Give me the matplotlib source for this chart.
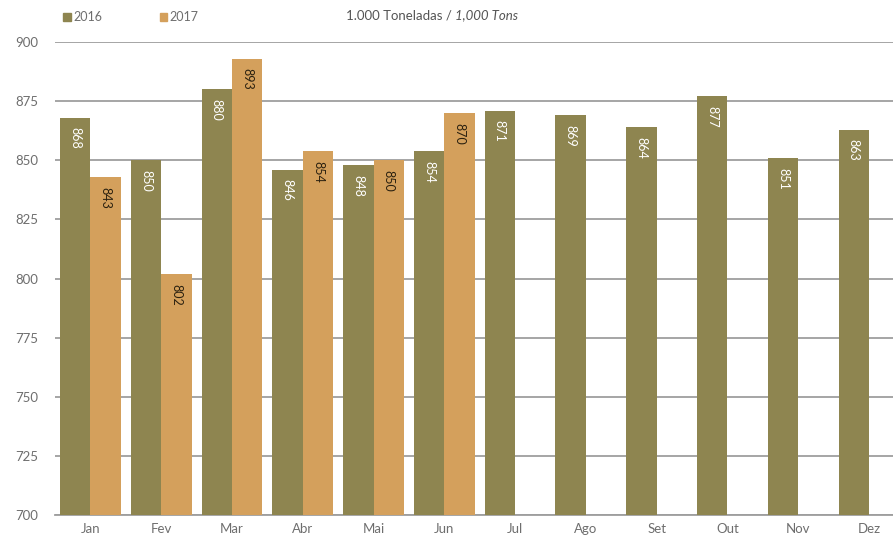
import numpy as np
import matplotlib
matplotlib.use('Agg')
import matplotlib.pyplot as plt
from matplotlib.patches import Patch

months = ['Jan', 'Fev', 'Mar', 'Abr', 'Mai', 'Jun', 'Jul', 'Ago', 'Set', 'Out', 'Nov', 'Dez']
values_2016 = [868, 850, 880, 846, 848, 854, 871, 869, 864, 877, 851, 863]
values_2017 = [843, 802, 893, 854, 850, 870]

color_2016 = '#8e8550'
color_2017 = '#d4a05c'
grid_color = '#9e9e9e'

plt.rcParams['font.family'] = ['Lato', 'DejaVu Sans']

fig = plt.figure(figsize=(8.93, 5.39), dpi=100)
ax = fig.add_axes([0.0616, 0.0445, 0.9384, 0.8775])

width = 0.43
x16 = np.arange(len(values_2016))
x17 = np.arange(len(values_2017))

bars16 = ax.bar(x16 - width / 2, values_2016, width, color=color_2016, zorder=3)
bars17 = ax.bar(x17 + width / 2, values_2017, width, color=color_2017, zorder=3)

# value labels written vertically just inside the top of each bar
for bars, vals, tcolor in [(bars16, values_2016, 'white'), (bars17, values_2017, '#2b2110')]:
    for b, v in zip(bars, vals):
        ax.annotate(str(v), (b.get_x() + b.get_width() / 2, v),
                    xytext=(0, -7), textcoords='offset points',
                    ha='center', va='top', rotation=270,
                    fontsize=9, color=tcolor, zorder=4)

ax.set_ylim(700, 900)
ax.set_yticks(np.arange(700, 901, 25))
ax.set_xlim(-0.5, 11.34)
ax.set_xticks(np.arange(len(months)))
ax.set_xticklabels(months)
ax.tick_params(axis='both', length=0, colors='#6e6e6e', labelsize=9.5)
ax.tick_params(axis='x', pad=6)
ax.tick_params(axis='y', pad=12)

ax.yaxis.grid(True, color=grid_color, linewidth=1.3, zorder=0)
for side in ['top', 'right', 'left']:
    ax.spines[side].set_visible(False)
ax.spines['bottom'].set_color(grid_color)
ax.spines['bottom'].set_linewidth(1.3)

fig.text(0.51, 0.972, '1.000 Toneladas / ', ha='right', va='center',
         fontsize=9.5, color='#555555')
fig.text(0.51, 0.972, '1,000 Tons', ha='left', va='center',
         fontsize=9.5, color='#555555', style='italic')

handles = [Patch(color=color_2016, label='2016'), Patch(color=color_2017, label='2017')]
fig.legend(handles=handles, loc='center left', bbox_to_anchor=(0.058, 0.968),
           ncol=2, frameon=False, handlelength=0.6, handleheight=0.6,
           handletextpad=0.2, columnspacing=4.6, fontsize=9,
           labelcolor='#6e6e6e')

fig.savefig('out.png', dpi=100, facecolor='white')
